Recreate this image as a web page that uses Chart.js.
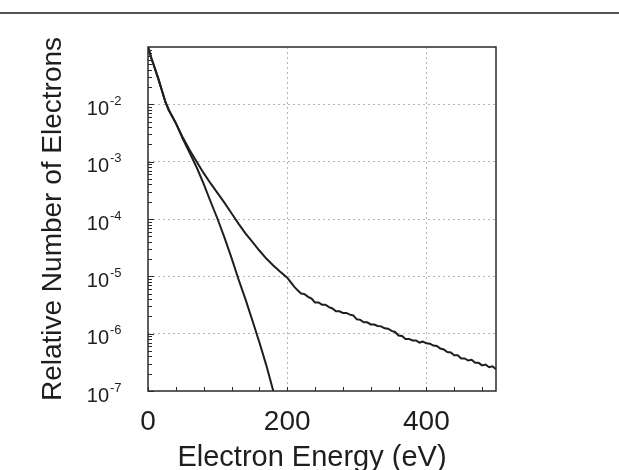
<!DOCTYPE html>
<html>
<head>
<meta charset="utf-8">
<style>
  html, body { margin: 0; padding: 0; background: #fff; }
  canvas { display: block; }
</style>
<script src="https://cdn.jsdelivr.net/npm/chart.js@4.4.1/dist/chart.umd.min.js"></script>
</head>
<body>
<canvas id="chart" width="619" height="470"></canvas>
<script>
// energy (eV) and relative number of electrons
const energyA = [0, 5, 10, 15, 20, 25, 30, 40, 50, 60, 70, 80, 90, 100, 110, 120, 130, 140, 150, 160, 170, 180];
const countsA = [1.0e-1, 6.3e-2, 4.17e-2, 2.75e-2, 1.74e-2, 1.10e-2, 7.9e-3, 4.7e-3, 2.5e-3, 1.41e-3, 7.9e-4,
  4.1e-4, 2.0e-4, 1.0e-4, 4.7e-5, 2.1e-5, 8.9e-6, 4.0e-6, 1.7e-6, 7.1e-7, 2.8e-7, 1.0e-7];

const energyB = [0, 5, 10, 15, 20, 25, 30, 40, 50, 60, 70, 80, 90, 100, 110, 120, 130, 140, 150, 160, 170, 180, 190, 200,
  205, 210, 215, 220, 225, 230, 235, 240, 245, 250, 255, 260, 265, 270, 275, 280, 285, 290, 295, 300,
  305, 310, 315, 320, 325, 330, 335, 340, 345, 350, 355, 360, 365, 370, 375, 380, 385, 390, 395, 400,
  405, 410, 415, 420, 425, 430, 435, 440, 445, 450, 455, 460, 465, 470, 475, 480, 485, 490, 495, 500];
const countsB = [1.0e-1, 6.3e-2, 4.17e-2, 2.75e-2, 1.74e-2, 1.10e-2, 7.9e-3, 4.7e-3, 2.63e-3, 1.58e-3, 1.0e-3,
  6.3e-4, 4.17e-4, 2.82e-4, 1.91e-4, 1.26e-4, 8.3e-5, 5.6e-5, 4.0e-5, 2.82e-5, 2.04e-5, 1.55e-5, 1.20e-5, 9.5e-6,
  7.9e-6, 6.6e-6, 5.7e-6, 5.0e-6, 4.9e-6, 4.4e-6, 4.1e-6, 3.5e-6, 3.5e-6, 3.2e-6, 3.2e-6, 2.9e-6, 2.75e-6, 2.45e-6,
  2.45e-6, 2.3e-6, 2.3e-6, 2.15e-6, 2.08e-6, 1.78e-6, 1.74e-6, 1.58e-6, 1.58e-6, 1.45e-6, 1.44e-6, 1.36e-6,
  1.34e-6, 1.24e-6, 1.22e-6, 1.12e-6, 1.07e-6, 9.3e-7, 9.1e-7, 8.1e-7, 8.1e-7, 7.6e-7, 7.6e-7, 7.0e-7, 7.3e-7,
  6.8e-7, 6.7e-7, 6.2e-7, 6.1e-7, 5.5e-7, 5.3e-7, 4.8e-7, 4.7e-7, 4.2e-7, 4.2e-7, 3.7e-7, 3.7e-7, 3.4e-7,
  3.5e-7, 3.1e-7, 3.1e-7, 2.8e-7, 2.9e-7, 2.6e-7, 2.7e-7, 2.4e-7];

const xTicks = [0, 40, 80, 120, 160, 200, 240, 280, 320, 360, 400, 440, 480];
const xLabels = [0, 200, 400];
const yExponents = [-1, -2, -3, -4, -5, -6, -7];
const yLabelExponents = [-2, -3, -4, -5, -6, -7];
const xTitle = 'Electron Energy (eV)';
const yTitle = 'Relative Number of Electrons';

const FONT = '"Liberation Sans", Arial, Helvetica, sans-serif';
const INK = '#1e1e1e';
const GRID = '#b4b4b4';

const decorations = {
  id: 'decorations',
  afterDraw(chart) {
    const ctx = chart.ctx;
    const area = chart.chartArea;
    const xs = chart.scales.x;
    const ys = chart.scales.y;
    ctx.save();

    // page rule at the top
    ctx.fillStyle = '#555';
    ctx.fillRect(0, 12, chart.width, 2);

    // plot frame
    ctx.strokeStyle = '#2a2a2a';
    ctx.lineWidth = 1.5;
    ctx.strokeRect(area.left, area.top, area.right - area.left, area.bottom - area.top);

    // inward ticks on the bottom axis
    ctx.lineWidth = 1;
    ctx.beginPath();
    xTicks.forEach(v => {
      const px = Math.round(xs.getPixelForValue(v)) + 0.5;
      ctx.moveTo(px, area.bottom);
      ctx.lineTo(px, area.bottom - 4);
    });
    // inward minor ticks on the left axis
    yExponents.forEach(e => {
      if (e === -1) return;
      for (let m = 1; m < 10; m++) {
        const py = Math.round(ys.getPixelForValue(m * Math.pow(10, e))) + 0.5;
        ctx.moveTo(area.left, py);
        ctx.lineTo(area.left + (m === 1 ? 6 : 4), py);
      }
    });
    ctx.stroke();

    // y tick labels with superscript exponents
    ctx.fillStyle = INK;
    ctx.textBaseline = 'middle';
    yLabelExponents.forEach(e => {
      const py = ys.getPixelForValue(Math.pow(10, e));
      ctx.font = '20px ' + FONT;
      ctx.textAlign = 'right';
      ctx.fillText('10', 109, py + 5);
      ctx.font = '13px ' + FONT;
      ctx.textAlign = 'left';
      ctx.fillText('-' + Math.abs(e), 110, py - 3);
    });

    // axis titles
    ctx.textAlign = 'center';
    ctx.textBaseline = 'alphabetic';
    ctx.font = '29px ' + FONT;
    ctx.fillText(xTitle, 312, 466);
    ctx.font = '28px ' + FONT;
    ctx.translate(61, (area.top + area.bottom) / 2);
    ctx.rotate(-Math.PI / 2);
    ctx.fillText(yTitle, 0, 0);
    ctx.restore();
  }
};

new Chart(document.getElementById('chart'), {
  type: 'line',
  data: {
    datasets: [
      {
        data: energyA.map((x, i) => ({ x: x, y: countsA[i] })),
        borderColor: INK,
        borderWidth: 2,
        pointRadius: 0,
        tension: 0
      },
      {
        data: energyB.map((x, i) => ({ x: x, y: countsB[i] })),
        borderColor: INK,
        borderWidth: 2,
        pointRadius: 0,
        tension: 0
      }
    ]
  },
  options: {
    responsive: false,
    animation: false,
    layout: { padding: { top: 47, right: 123, left: 0, bottom: 0 } },
    plugins: { legend: { display: false }, tooltip: { enabled: false } },
    scales: {
      x: {
        type: 'linear',
        min: 0,
        max: 500,
        afterBuildTicks: s => { s.ticks = xTicks.map(v => ({ value: v })); },
        afterFit: s => { s.height = 79; },
        ticks: {
          autoSkip: false,
          maxRotation: 0,
          padding: 14,
          color: INK,
          font: { family: FONT, size: 28 },
          callback: v => (xLabels.includes(v) ? String(v) : '')
        },
        grid: {
          drawTicks: false,
          lineWidth: 1,
          color: c => (c.tick && (c.tick.value === 200 || c.tick.value === 400) ? GRID : 'rgba(0,0,0,0)')
        },
        border: { display: false, dash: [2, 3] }
      },
      y: {
        type: 'logarithmic',
        min: 1e-7,
        max: 1e-1,
        afterBuildTicks: s => { s.ticks = yExponents.map(e => ({ value: Math.pow(10, e) })); },
        afterFit: s => { s.width = 148; },
        ticks: { display: false },
        grid: {
          drawTicks: false,
          lineWidth: 1,
          color: c => {
            if (!c.tick) return 'rgba(0,0,0,0)';
            const e = Math.round(Math.log10(c.tick.value));
            return e <= -2 && e >= -6 ? GRID : 'rgba(0,0,0,0)';
          }
        },
        border: { display: false, dash: [2, 3] }
      }
    }
  },
  plugins: [decorations]
});
</script>
</body>
</html>
